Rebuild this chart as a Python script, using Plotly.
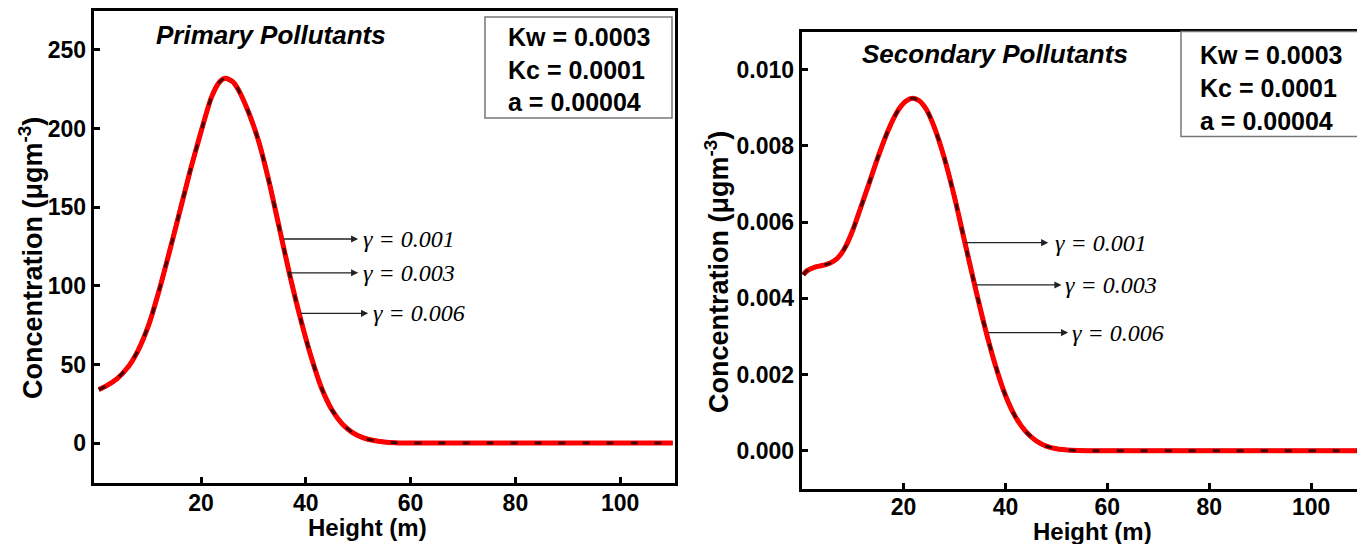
import plotly.graph_objects as go

# ---------------- data ----------------
height_primary = [0.5, 2, 4, 6, 8, 10, 12, 14, 16, 18, 20, 22, 23.5, 24.6, 26, 27,
                  29, 31, 33, 35, 37, 39, 41, 43, 45, 47, 49, 51, 53, 55, 57, 58.5,
                  65, 75, 85, 95, 105, 110]
primary_conc = [34, 36.5, 41, 48, 59, 75, 97, 122, 148, 174, 198, 220, 229.5, 232, 230, 225.5,
                211, 192, 166, 136, 106, 79, 55, 35, 21, 12, 6.5, 3.3, 1.6, 0.7, 0.2, 0,
                0, 0, 0, 0, 0, 0]

height_secondary = [0.3, 1, 2.6, 4, 5.5, 7, 8.5, 10, 11.5, 13, 15, 17, 19, 20.5, 21.8,
                    23, 24.5, 26, 28, 30, 32, 34, 36, 38, 40, 42, 44, 46, 48, 50, 53,
                    56, 65, 75, 85, 95, 105, 110]
secondary_conc = [0.00462, 0.00472, 0.00482, 0.00486, 0.00492, 0.00505, 0.00533, 0.00578,
                  0.00635, 0.00693, 0.00772, 0.00842, 0.00895, 0.00918, 0.00925, 0.00919,
                  0.00895, 0.00850, 0.00768, 0.00665, 0.00548, 0.00432, 0.00322, 0.00225,
                  0.00145, 0.00088, 0.00050, 0.00026, 0.00012, 0.00005, 0.00001,
                  0.0, 0.0, 0.0, 0.0, 0.0, 0.0, 0.0]

gamma_labels = ["γ = 0.001", "γ = 0.003", "γ = 0.006"]
param_lines = ["Kw = 0.0003", "Kc = 0.0001", "a = 0.00004"]
primary_yticks = [0, 50, 100, 150, 200, 250]
secondary_yticks = [0.000, 0.002, 0.004, 0.006, 0.008, 0.010]
x_ticks = [20, 40, 60, 80, 100]

OFF = 8                      # default page margin around the figure
W, H = 1365 - OFF, 544 - OFF
SANS = "Liberation Sans, Arial, sans-serif"
SERIF = "Liberation Serif, Times New Roman, serif"

fig = go.Figure()

def add_curves(xs, ys, xa, ya):
    styles = [
        dict(color="black", width=4),
        dict(color="#ff0000", width=5),
        dict(color="rgba(40,0,0,0.85)", width=3, dash="7px,17px"),
    ]
    for lab, st in zip(gamma_labels, styles):
        fig.add_trace(go.Scatter(x=xs, y=ys, mode="lines", name=lab,
                                 line=dict(shape="spline", smoothing=0.7, **st),
                                 xaxis=xa, yaxis=ya, showlegend=False,
                                 hoverinfo="skip"))

add_curves(height_primary, primary_conc, "x", "y")
add_curves(height_secondary, secondary_conc, "x2", "y2")

def px_x(p):
    return (p - OFF) / W

def px_y(p):
    return 1 - (p - OFF) / H

axis_common = dict(showline=True, linewidth=3, linecolor="black", mirror=True,
                   ticks="inside", ticklen=6, tickwidth=3, tickcolor="black",
                   showgrid=False, zeroline=False,
                   tickfont=dict(family=SANS, size=23, color="black", weight="bold"))

fig.update_layout(
    width=W, height=H,
    margin=dict(l=0, r=0, t=0, b=0),
    paper_bgcolor="white", plot_bgcolor="white",
    xaxis=dict(domain=[px_x(93.6), px_x(675.2)], range=[-0.5, 110.5],
               tickvals=x_ticks, anchor="y", ticklabelstandoff=-3, **axis_common),
    yaxis=dict(domain=[px_y(483), px_y(11)], range=[-25.4, 274.8],
               tickvals=primary_yticks, anchor="x", **axis_common),
    xaxis2=dict(domain=[px_x(801.75), px_x(1361)], range=[0, 109.8],
                tickvals=x_ticks, anchor="y2", ticklabelstandoff=-4, **axis_common),
    yaxis2=dict(domain=[px_y(488.8), px_y(31.6)], range=[-0.001, 0.011],
                tickvals=secondary_yticks, tickformat=".3f", anchor="x2", **axis_common),
)

ann = []
shapes = []

# axis titles
for cx, cy in [(367, 527), (1092, 531)]:
    ann.append(dict(text="Height (m)", x=px_x(cx), y=px_y(cy), xref="paper", yref="paper",
                    showarrow=False, xanchor="center", yanchor="middle",
                    font=dict(family=SANS, size=24, color="black", weight="bold")))
for cx, cy in [(31, 258), (717, 272)]:
    ann.append(dict(text="Concentration (μgm<sup>-3</sup>)", x=px_x(cx), y=px_y(cy),
                    xref="paper", yref="paper", showarrow=False, textangle=-90,
                    xanchor="center", yanchor="middle",
                    font=dict(family=SANS, size=27, color="black", weight="bold")))

# panel titles
ann.append(dict(text="<i>Primary Pollutants</i>", x=px_x(154), y=px_y(35), xref="paper",
                yref="paper", showarrow=False, xanchor="left", yanchor="middle",
                font=dict(family=SANS, size=26, color="black", weight="bold")))
ann.append(dict(text="<i>Secondary Pollutants</i>", x=px_x(860), y=px_y(54), xref="paper",
                yref="paper", showarrow=False, xanchor="left", yanchor="middle",
                font=dict(family=SANS, size=26, color="black", weight="bold")))

# parameter boxes
for (x0, x1, y0, y1), tx, tys in [((485, 672, 17, 118), 506, (37.5, 70, 102)),
                                  ((1181, 1358, 31.6, 136.5), 1198, (55, 88, 121))]:
    shapes.append(dict(type="rect", xref="paper", yref="paper",
                       x0=px_x(x0), x1=px_x(x1), y0=px_y(y1), y1=px_y(y0),
                       line=dict(color="#777777", width=1.5), fillcolor="white"))
    for line, ty in zip(param_lines, tys):
        ann.append(dict(text=line, x=px_x(tx), y=px_y(ty), xref="paper", yref="paper",
                        showarrow=False, xanchor="left", yanchor="middle",
                        font=dict(family=SANS, size=25, color="black", weight="bold")))

# gamma arrows + labels (positions in axis coordinates)
arrows_primary = [(35.5, 50.0, 129.8, 50.5), (36.3, 50.0, 108.3, 50.5), (38.7, 51.9, 82.5, 52.4)]
arrows_secondary = [(31.7, 48.4, 0.00546, 49.3), (33.7, 51.0, 0.00435, 51.3), (36.3, 52.3, 0.0031, 52.7)]
for (xa, ya), arr in [(("x", "y"), arrows_primary), (("x2", "y2"), arrows_secondary)]:
    for lab, (tail, head, yy, tx) in zip(gamma_labels, arr):
        ann.append(dict(x=head, y=yy, ax=tail, ay=yy, xref=xa, yref=ya, axref=xa, ayref=ya,
                        text="", showarrow=True, arrowhead=2, arrowsize=1.1,
                        arrowwidth=1.3, arrowcolor="#222222", standoff=0, startstandoff=0))
        ann.append(dict(x=tx, y=yy, xref=xa, yref=ya, text="<i>" + lab + "</i>",
                        showarrow=False, xanchor="left", yanchor="middle",
                        font=dict(family=SERIF, size=24, color="black")))

fig.update_layout(annotations=ann, shapes=shapes)
fig.write_html("out.html")
